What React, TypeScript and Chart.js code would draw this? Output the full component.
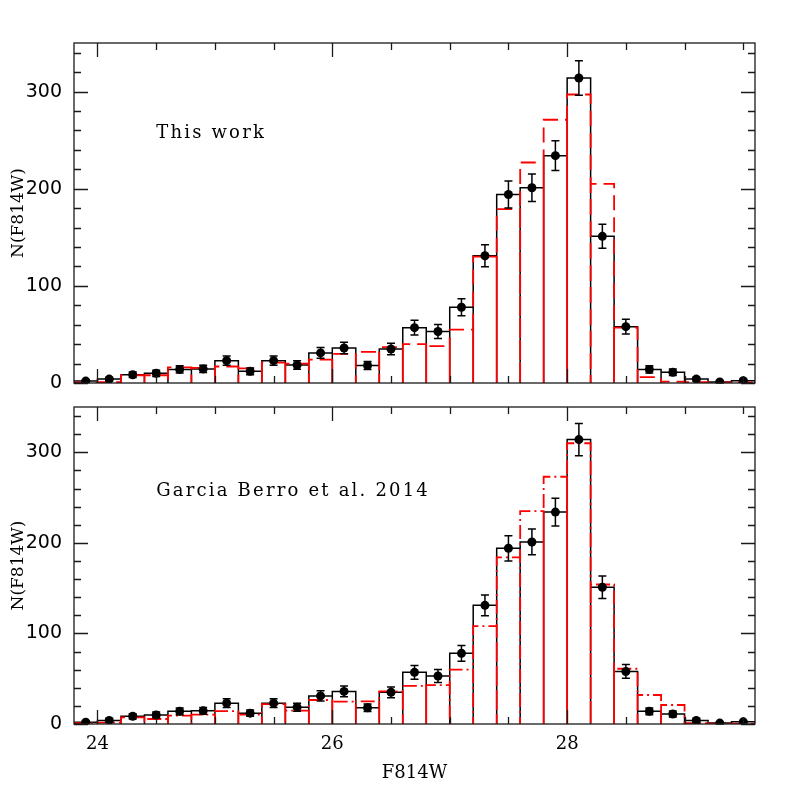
import React, { useEffect, useRef } from 'react';
import { Chart, registerables } from 'chart.js';

Chart.register(...registerables);

// ---- data ----
const binCenters = [23.9, 24.1, 24.3, 24.5, 24.7, 24.9, 25.1, 25.3, 25.5, 25.7, 25.9, 26.1, 26.3, 26.5, 26.7, 26.9, 27.1, 27.3, 27.5, 27.7, 27.9, 28.1, 28.3, 28.5, 28.7, 28.9, 29.1, 29.3, 29.5];
const BIN_WIDTH = 0.2;
const observed = [2, 4, 8.5, 10, 14, 14.5, 23, 12, 23, 18.5, 31, 36, 18, 35, 57, 53, 78, 131, 194, 201, 234, 314, 151, 58, 14, 11, 4, 1, 2.4];
const observedErr = [1.4, 2, 2.9, 3.2, 3.7, 3.8, 4.8, 3.5, 4.8, 4.3, 5.6, 6, 4.2, 5.9, 7.5, 7.3, 8.8, 11.4, 13.9, 14.2, 15.3, 17.7, 12.3, 7.6, 3.7, 3.3, 2, 1, 1.5];
const modelThisWork = [0.5, 1, 8, 8, 16, 15.5, 17, 15, 21, 20, 24, 30, 32, 37, 40, 38, 55, 130, 179, 227, 271, 297, 205, 57, 6, 1.5, 1, 0.5, 0.5];
const modelGarciaBerro = [1, 1.5, 7.3, 5.5, 9.2, 10.3, 14.3, 10.3, 22, 14.7, 26.5, 24.6, 25, 36, 42, 43, 60, 108, 184, 235, 273, 310, 154, 61, 32, 21, 1, 0.5, 0.5];
const xTickValues = [24, 26, 28];
const yTickValues = [0, 100, 200, 300];
const X_MIN = 23.8;
const X_MAX = 29.6;
const Y_MIN = 0;
const Y_MAX = 350;

function histPath(values: number[]) {
  const pts: { x: number; y: number }[] = [];
  values.forEach((v, i) => {
    const l = binCenters[i] - BIN_WIDTH / 2;
    const r = binCenters[i] + BIN_WIDTH / 2;
    pts.push({ x: l, y: 0 }, { x: l, y: v }, { x: r, y: v }, { x: r, y: 0 });
  });
  return pts;
}

const framePlugin = {
  id: 'frameTicks',
  afterDatasetsDraw(chart: any) {
    const { ctx, chartArea: a, scales } = chart;
    const x = scales.x;
    const y = scales.y;
    ctx.save();
    ctx.strokeStyle = '#1a1a1a';
    ctx.lineWidth = 1.3;
    ctx.beginPath();
    for (let k = Math.ceil(X_MIN * 2); k <= Math.floor(X_MAX * 2); k++) {
      const v = k / 2;
      const px = Math.round(x.getPixelForValue(v)) + 0.5;
      const len = xTickValues.includes(v) ? 14 : 7;
      ctx.moveTo(px, a.bottom);
      ctx.lineTo(px, a.bottom - len);
      ctx.moveTo(px, a.top);
      ctx.lineTo(px, a.top + len);
    }
    for (let v = Y_MIN; v <= Y_MAX; v += 20) {
      const py = Math.round(y.getPixelForValue(v)) + 0.5;
      const len = yTickValues.includes(v) ? 14 : 7;
      ctx.moveTo(a.left, py);
      ctx.lineTo(a.left + len, py);
      ctx.moveTo(a.right, py);
      ctx.lineTo(a.right - len, py);
    }
    ctx.stroke();
    ctx.strokeRect(a.left, a.top, a.right - a.left, a.bottom - a.top);
    ctx.restore();
  },
};

const errorBarPlugin = {
  id: 'errorBars',
  beforeDatasetDraw(chart: any, args: any) {
    if (args.index !== 0) return;
    const { ctx, scales } = chart;
    const x = scales.x;
    const y = scales.y;
    ctx.save();
    ctx.strokeStyle = '#000';
    ctx.lineWidth = 1.5;
    ctx.beginPath();
    binCenters.forEach((c, i) => {
      const px = x.getPixelForValue(c);
      const y1 = y.getPixelForValue(observed[i] + observedErr[i]);
      const y2 = y.getPixelForValue(observed[i] - observedErr[i]);
      ctx.moveTo(px, y1);
      ctx.lineTo(px, y2);
      ctx.moveTo(px - 4, y1);
      ctx.lineTo(px + 4, y1);
      ctx.moveTo(px - 4, y2);
      ctx.lineTo(px + 4, y2);
    });
    ctx.stroke();
    ctx.restore();
  },
};

const labelPlugin = {
  id: 'panelLabel',
  afterDatasetsDraw(chart: any, _args: any, opts: any) {
    if (!opts || !opts.text) return;
    const { ctx, scales } = chart;
    ctx.save();
    ctx.fillStyle = '#000';
    ctx.font = '18px "DejaVu Serif"';
    (ctx as any).letterSpacing = '2.2px';
    ctx.textAlign = 'left';
    ctx.textBaseline = 'middle';
    ctx.fillText(opts.text, scales.x.getPixelForValue(opts.x), scales.y.getPixelForValue(opts.y));
    ctx.restore();
  },
};

function makeConfig(model: number[], dash: number[], label: string, showX: boolean, padTop: number, padBottom: number): any {
  return {
    type: 'line',
    data: {
      datasets: [
        {
          type: 'scatter',
          data: binCenters.map((c, i) => ({ x: c, y: observed[i] })),
          pointRadius: 4.5,
          pointBackgroundColor: '#000',
          pointBorderColor: '#000',
          pointBorderWidth: 0,
          showLine: false,
          order: 0,
        },
        {
          data: histPath(model),
          borderColor: '#ff0000',
          borderWidth: 1.8,
          borderDash: dash,
          pointRadius: 0,
          fill: false,
          tension: 0,
          order: 1,
        },
        {
          data: histPath(observed),
          borderColor: '#000',
          borderWidth: 1.5,
          pointRadius: 0,
          fill: false,
          tension: 0,
          order: 2,
        },
      ],
    },
    options: {
      responsive: false,
      animation: false,
      devicePixelRatio: 1,
      layout: { padding: { top: padTop, bottom: padBottom, left: 0, right: 42 } },
      plugins: {
        legend: { display: false },
        tooltip: { enabled: false },
        panelLabel: { text: label, x: 24.5, y: 257 },
      },
      scales: {
        x: {
          type: 'linear',
          min: X_MIN,
          max: X_MAX,
          display: showX,
          grid: { display: false, drawTicks: false },
          border: { display: false },
          afterBuildTicks: (s: any) => {
            s.ticks = xTickValues.map((v) => ({ value: v }));
          },
          afterFit: (s: any) => {
            s.height = showX ? 73 : 0;
            s.paddingLeft = 0;
            s.paddingRight = 0;
          },
          ticks: {
            font: { family: 'DejaVu Serif', size: 18 },
            color: '#000',
            padding: 10,
            maxRotation: 0,
          },
          title: {
            display: true,
            text: 'F814W',
            font: { family: 'DejaVu Serif', size: 18 },
            color: '#000',
            padding: { top: 0, bottom: 13 },
          },
        },
        y: {
          type: 'linear',
          min: Y_MIN,
          max: Y_MAX,
          grid: { display: false, drawTicks: false },
          border: { display: false },
          afterBuildTicks: (s: any) => {
            s.ticks = yTickValues.map((v) => ({ value: v }));
          },
          afterFit: (s: any) => {
            s.width = 74;
            s.paddingTop = 0;
            s.paddingBottom = 0;
          },
          ticks: {
            font: { family: 'DejaVu Sans', size: 19 },
            color: '#000',
            padding: 12,
          },
          title: {
            display: true,
            text: 'N(F814W)',
            font: { family: 'DejaVu Serif', size: 17 },
            color: '#000',
            padding: { top: 8, bottom: 0 },
          },
        },
      },
    },
    plugins: [errorBarPlugin, framePlugin, labelPlugin],
  };
}

export default function App() {
  const topRef = useRef<HTMLCanvasElement>(null);
  const botRef = useRef<HTMLCanvasElement>(null);

  useEffect(() => {
    const c1 = new Chart(topRef.current as HTMLCanvasElement, makeConfig(modelThisWork, [15, 7], 'This work', false, 43, 12));
    const c2 = new Chart(botRef.current as HTMLCanvasElement, makeConfig(modelGarciaBerro, [14, 4, 2, 4], 'Garcia Berro et al. 2014', true, 12, 0));
    return () => {
      c1.destroy();
      c2.destroy();
    };
  }, []);

  return (
    <div style={{ position: 'fixed', left: 0, top: 0, width: 797, height: 797, background: '#fff' }}>
      <canvas ref={topRef} width={797} height={395} style={{ position: 'absolute', left: 0, top: 0, display: 'block' }} />
      <canvas ref={botRef} width={797} height={402} style={{ position: 'absolute', left: 0, top: 395, display: 'block' }} />
    </div>
  );
}
